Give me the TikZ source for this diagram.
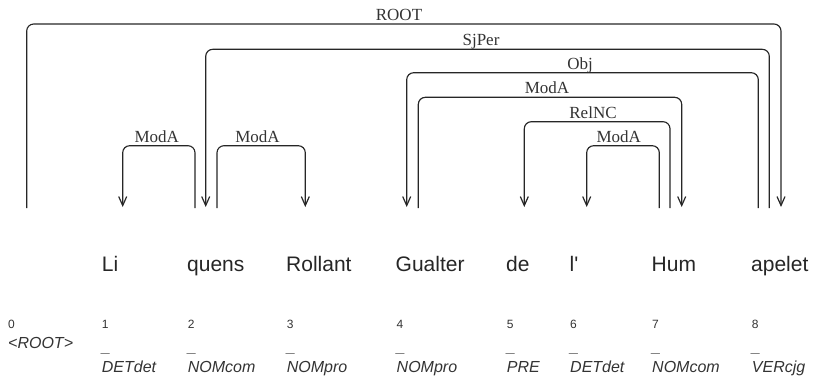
\documentclass[tikz,border=0pt]{standalone}
\usepackage{fontspec}
\setmainfont{Liberation Serif}
\setsansfont{Liberation Sans}
\newfontfamily\wordfont{Liberation Sans}
\usetikzlibrary{arrows.meta}
\begin{document}
\begin{tikzpicture}[x=1bp,y=-1bp,
  arc/.style={line width=1.15bp, rounded corners=7bp, draw=black!85},
  hd/.style={-{Straight Barb[length=9bp,width=8bp,line width=1.2bp]}},
  lab/.style={font=\fontsize{17bp}{17bp}\selectfont\rmfamily, anchor=base, inner sep=0pt, text=black!80},
  word/.style={font=\fontsize{21bp}{21bp}\selectfont\wordfont, anchor=base west, inner sep=0pt, text=black!85},
  idx/.style={font=\fontsize{12bp}{12bp}\selectfont\sffamily, anchor=base west, inner sep=0pt, text=black!80},
  tag/.style={font=\fontsize{16bp}{16bp}\selectfont\sffamily\itshape, anchor=base west, inner sep=0pt, text=black!80},
]
\useasboundingbox (0,0) rectangle (815,378);

% words
\node[word] (w1) at (101.7,271) {Li};
\node[word] (w2) at (187.0,271) {quens};
\node[word] (w3) at (286.0,271) {Rollant};
\node[word] (w4) at (395.5,271) {Gualter};
\node[word] (w5) at (506.0,271) {de};
\node[word] (w6) at (569.5,271) {l'};
\node[word] (w7) at (651.5,271) {Hum};
\node[word] (w8) at (751.0,271) {apelet};

% indices
\node[idx] (i0) at (8,328) {0};
\node[idx] (i1) at (101.7,328) {1};
\node[idx] (i2) at (187.7,328) {2};
\node[idx] (i3) at (286.7,328) {3};
\node[idx] (i4) at (396.5,328) {4};
\node[idx] (i5) at (506.7,328) {5};
\node[idx] (i6) at (570,328) {6};
\node[idx] (i7) at (652,328) {7};
\node[idx] (i8) at (751.7,328) {8};

% underscores / root
\node[tag] (r0) at (8,348) {<ROOT>};
\foreach \n/\x in {1/101.7,2/187.7,3/286.7,4/396.5,5/506.7,6/570,7/652,8/751.7}
  \node[tag] (u\n) at (\x,352) {\_};

% tags
\node[tag] (t1) at (101.7,372.5) {DETdet};
\node[tag] (t2) at (187.7,372.5) {NOMcom};
\node[tag] (t3) at (286.7,372.5) {NOMpro};
\node[tag] (t4) at (396.5,372.5) {NOMpro};
\node[tag] (t5) at (506.7,372.5) {PRE};
\node[tag] (t6) at (570,372.5) {DETdet};
\node[tag] (t7) at (652,372.5) {NOMcom};
\node[tag] (t8) at (751.7,372.5) {VERcjg};

% arc end points
\coordinate (rootS) at (26.7,208);  \coordinate (rootE) at (781,207);
\coordinate (sjS) at (769.3,208);   \coordinate (sjE) at (205.7,207);
\coordinate (ma1S) at (195,208);    \coordinate (ma1E) at (122.7,207);
\coordinate (ma2S) at (217,208);    \coordinate (ma2E) at (305.3,207);
\coordinate (objS) at (758.3,208);  \coordinate (objE) at (406.7,207);
\coordinate (ma3S) at (418.3,208);  \coordinate (ma3E) at (681.7,207);
\coordinate (relS) at (670,208);    \coordinate (relE) at (524.3,207);
\coordinate (ma4S) at (659.3,208);  \coordinate (ma4E) at (586.7,207);

% arcs
\draw[arc,hd] (rootS) -- (rootS |- 0,24)    -- (rootE |- 0,24)    -- (rootE);
\draw[arc,hd] (sjS)   -- (sjS |- 0,49.3)    -- (sjE |- 0,49.3)    -- (sjE);
\draw[arc,hd] (objS)  -- (objS |- 0,72.7)   -- (objE |- 0,72.7)   -- (objE);
\draw[arc,hd] (ma3S)  -- (ma3S |- 0,97.3)   -- (ma3E |- 0,97.3)   -- (ma3E);
\draw[arc,hd] (relS)  -- (relS |- 0,121.7)  -- (relE |- 0,121.7)  -- (relE);
\draw[arc,hd] (ma4S)  -- (ma4S |- 0,145.7)  -- (ma4E |- 0,145.7)  -- (ma4E);
\draw[arc,hd] (ma1S)  -- (ma1S |- 0,145.7)  -- (ma1E |- 0,145.7)  -- (ma1E);
\draw[arc,hd] (ma2S)  -- (ma2S |- 0,145.7)  -- (ma2E |- 0,145.7)  -- (ma2E);

% labels
\node[lab] (lRoot) at (399,20.5) {ROOT};
\node[lab] (lSj)   at (481,45.5) {SjPer};
\node[lab] (lObj)  at (580,69) {Obj};
\node[lab] (lMa3)  at (547,93.5) {ModA};
\node[lab] (lRel)  at (593,118) {RelNC};
\node[lab] (lMa4)  at (618.7,142) {ModA};
\node[lab] (lMa1)  at (156.7,142) {ModA};
\node[lab] (lMa2)  at (257.5,142) {ModA};
\end{tikzpicture}
\end{document}
